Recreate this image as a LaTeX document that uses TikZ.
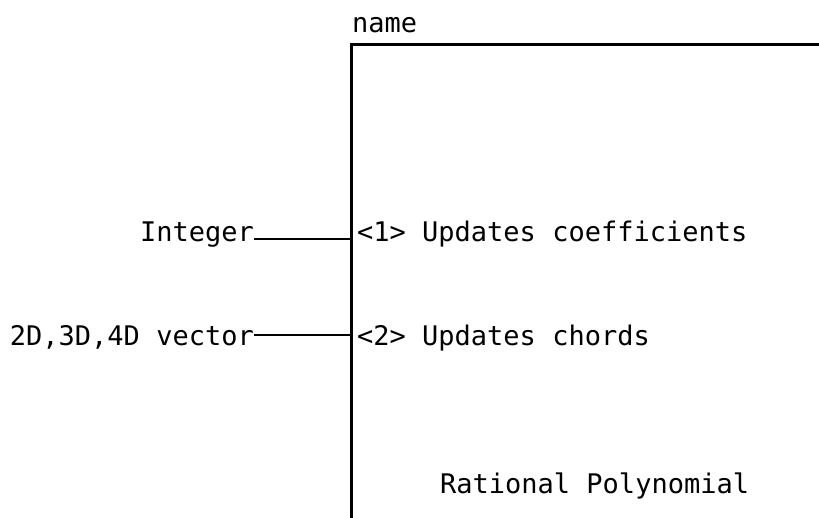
\documentclass[tikz,border=0pt]{standalone}
\usepackage{fontspec}
\setmainfont{DejaVu Sans Mono}
\begin{document}
\begin{tikzpicture}[x=1pt,y=-1pt,
  lbl/.style={inner sep=0pt,font=\fontsize{27}{30}\selectfont},
  boxline/.style={line width=3pt},
  conn/.style={line width=2pt}]
\useasboundingbox[fill=white] (0,0) rectangle (819,518);
% frame
\coordinate (tr) at (819,45);
\coordinate (tl) at (351,45);
\coordinate (bl) at (351,518);
\draw[boxline,line cap=rect] (tr) -- (tl) -- (bl);
% texts
\node[lbl,anchor=base west] (name) at (352,33) {name};
\node[lbl,anchor=base east] (int) at (254,242) {Integer};
\node[lbl,anchor=base west] (u1) at (357,242) {<1> Updates coefficients};
\node[lbl,anchor=base east] (vec) at (254,346) {2D,3D,4D vector};
\node[lbl,anchor=base west] (u2) at (357,346) {<2> Updates chords};
\node[lbl,anchor=base west] (rp) at (440,493) {Rational Polynomial};
% connectors
\coordinate (j1) at (351,239);
\coordinate (j2) at (351,335);
\draw[conn] (int.base east |- j1) -- (j1);
\draw[conn] (vec.base east |- j2) -- (j2);
\end{tikzpicture}
\end{document}
